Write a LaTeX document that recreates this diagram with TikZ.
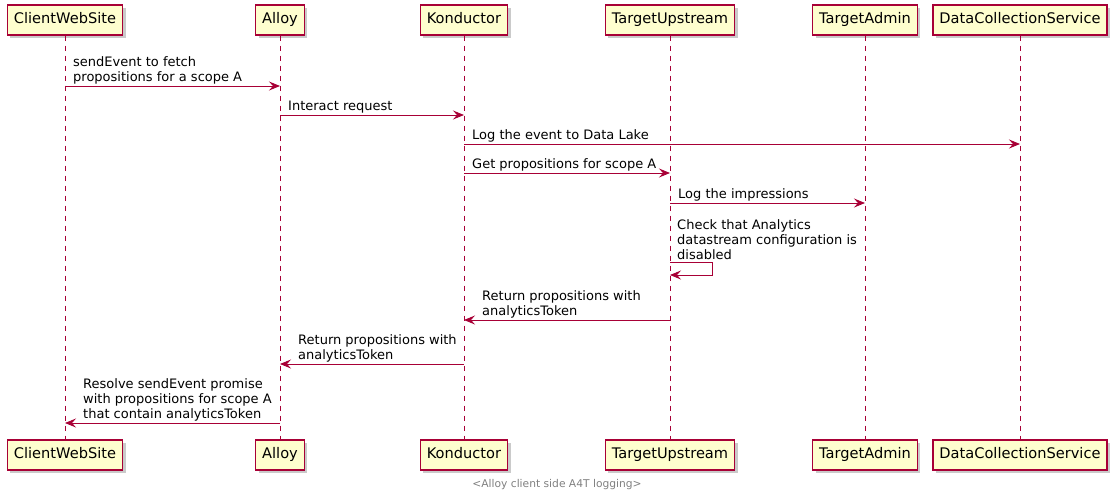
\documentclass[tikz,border=0pt]{standalone}
\usepackage{fontspec}
\setmainfont{DejaVu Sans}
\usetikzlibrary{arrows.meta,positioning,shadows}
\definecolor{umlred}{HTML}{A80036}
\definecolor{umlfill}{HTML}{FEFECE}

\begin{document}
\begin{tikzpicture}[x=1pt,y=-1pt,>={Stealth[length=11pt,width=9pt,inset=4pt]},
  party/.style={draw=umlred,fill=umlfill,line width=1.2pt,minimum height=30pt,inner xsep=6.5pt,
    text height=10.5pt,text depth=3pt,font=\fontsize{14.6}{16}\selectfont,
    drop shadow={shadow xshift=3pt,shadow yshift=-3pt,fill=black!35,opacity=0.6}},
  life/.style={umlred,dash pattern=on 5pt off 5pt,line width=0.8pt},
  msg/.style={->,umlred,line width=0.9pt},
  txt/.style={align=left,inner sep=0pt,font=\fontsize{13}{15}\selectfont}]

  \useasboundingbox (0,0) rectangle (1118,496);

  % participants, top and bottom
  \foreach \name/\x/\label in {cws/65/ClientWebSite, alloy/280/Alloy, kond/464/Konductor,
      tu/670/TargetUpstream, ta/865/TargetAdmin, dcs/1020/DataCollectionService}{
    \node[party] (\name) at (\x,20) {\label};
    \node[party] (\name b) at (\x,455) {\label};
    \draw[life] (\name.south) -- (\name b.north);
  }

  % messages
  \draw[msg] (cws |- 0,86) -- (alloy |- 0,86);
  \node[txt,anchor=south west] (m1) at ([xshift=8pt]cws |- 0,84.5) {sendEvent to fetch\\propositions for a scope A};

  \draw[msg] (alloy |- 0,115) -- (kond |- 0,115);
  \node[txt,anchor=south west] (m2) at ([xshift=8pt]alloy |- 0,113.5) {Interact request};

  \draw[msg] (kond |- 0,144) -- (dcs |- 0,144);
  \node[txt,anchor=south west] (m3) at ([xshift=8pt]kond |- 0,142.5) {Log the event to Data Lake};

  \draw[msg] (kond |- 0,173) -- (tu |- 0,173);
  \node[txt,anchor=south west] (m4) at ([xshift=8pt]kond |- 0,171.5) {Get propositions for scope A};

  \draw[msg] (tu |- 0,203) -- (ta |- 0,203);
  \node[txt,anchor=south west] (m5) at ([xshift=8pt]tu |- 0,201.5) {Log the impressions};

  \draw[msg] (tu |- 0,262) -- ++(42,0) -- ++(0,13) -- (tu |- 0,275);
  \node[txt,anchor=south west] (m6) at ([xshift=7pt]tu |- 0,260) {Check that Analytics\\datastream configuration is\\disabled};

  \draw[msg] (tu |- 0,320) -- (kond |- 0,320);
  \node[txt,anchor=south west] (m7) at ([xshift=18pt]kond |- 0,318.5) {Return propositions with\\analyticsToken};

  \draw[msg] (kond |- 0,364) -- (alloy |- 0,364);
  \node[txt,anchor=south west] (m8) at ([xshift=18pt]alloy |- 0,362.5) {Return propositions with\\analyticsToken};

  \draw[msg] (alloy |- 0,423) -- (cws |- 0,423);
  \node[txt,anchor=south west] (m9) at ([xshift=18pt]cws |- 0,421.5) {Resolve sendEvent promise\\with propositions for scope A\\that contain analyticsToken};

  % caption
  \node[font=\fontsize{10.7}{12}\selectfont,text=black!50] (cap) at (557,485) {<Alloy client side A4T logging>};
\end{tikzpicture}
\end{document}
